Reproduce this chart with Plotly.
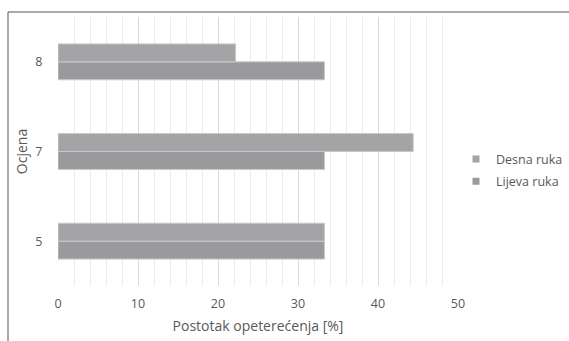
import plotly.graph_objects as go

categories = ["5", "7", "8"]
desna = [33.3, 44.4, 22.2]
lijeva = [33.3, 33.3, 33.3]
x_ticks = [0, 10, 20, 30, 40, 50]
c_desna = "#a4a4a7"
c_lijeva = "#9a9a9d"

fig = go.Figure()
fig.add_trace(go.Bar(y=categories, x=lijeva, orientation="h", name="Lijeva ruka",
                     showlegend=False,
                     marker=dict(color=c_lijeva, line=dict(color="#c8c8ca", width=1))))
fig.add_trace(go.Bar(y=categories, x=desna, orientation="h", name="Desna ruka",
                     showlegend=False,
                     marker=dict(color=c_desna, line=dict(color="#c8c8ca", width=1))))
# legend entries with small square keys
fig.add_trace(go.Scatter(x=[None], y=[None], mode="markers", name="Desna ruka",
                         legendgroup="d", marker=dict(symbol="square", size=7, color=c_desna)))
fig.add_trace(go.Scatter(x=[None], y=[None], mode="markers", name="Lijeva ruka",
                         legendgroup="l", marker=dict(symbol="square", size=7, color=c_lijeva)))

font = dict(family="Open Sans, Noto Sans, sans-serif", size=12, color="#595959")

fig.update_layout(
    width=569, height=341,
    margin=dict(l=58, r=111, t=17, b=55, autoexpand=False),
    paper_bgcolor="white", plot_bgcolor="white",
    barmode="group", bargap=0.6, bargroupgap=0,
    font=font,
    showlegend=True,
    legend=dict(traceorder="grouped", x=0.995, y=0.43, xanchor="left", yanchor="middle",
                font=dict(size=12.5, color="#595959"), itemwidth=30, tracegroupgap=3,
                bgcolor="rgba(0,0,0,0)"),
    xaxis=dict(range=[0, 50], tickvals=x_ticks, showgrid=True, gridcolor="#d9d9d9",
               gridwidth=1, zeroline=False, showline=False,
               ticks="outside", ticklen=6, tickcolor="rgba(0,0,0,0)",
               minor=dict(dtick=2, showgrid=True, gridcolor="#ececec", gridwidth=1),
               title=dict(text="Postotak opeterećenja [%]", font=dict(size=14, color="#595959"),
                          standoff=10),
               tickfont=dict(size=12.5, color="#595959")),
    yaxis=dict(type="category", categoryorder="array", categoryarray=categories,
               showgrid=False, zeroline=False, showline=False,
               ticks="outside", ticklen=12, tickcolor="rgba(0,0,0,0)",
               title=dict(text="Ocjena", font=dict(size=14, color="#595959"), standoff=4),
               tickfont=dict(size=12.5, color="#595959")),
    shapes=[
        dict(type="line", xref="paper", yref="paper", x0=-0.125, x1=1.35, y0=1.0186, y1=1.0186,
             line=dict(color="#555555", width=1)),
        dict(type="line", xref="paper", yref="paper", x0=-0.125, x1=-0.125, y0=1.0186, y1=-0.3,
             line=dict(color="#555555", width=1)),
    ],
)

fig.write_html("out.html", config={"displayModeBar": False},
               post_script="document.body.style.margin='0';document.body.style.overflow='hidden';")
